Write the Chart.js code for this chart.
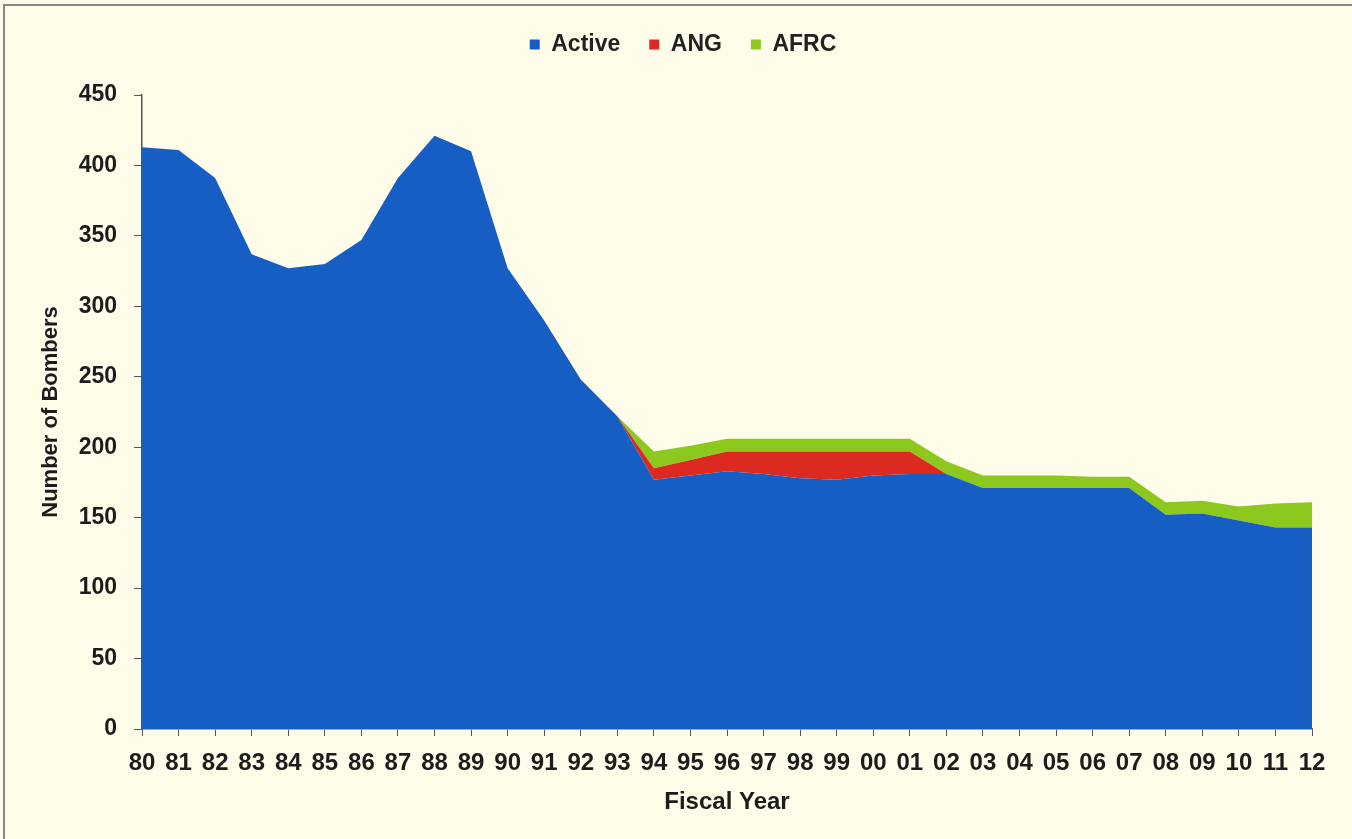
<!DOCTYPE html>
<html>
<head>
<meta charset="utf-8">
<title>Bomber Inventory</title>
<script src="https://cdn.jsdelivr.net/npm/chart.js@4.4.0/dist/chart.umd.min.js"></script>
<style>
  html, body { margin: 0; padding: 0; background: #fffde9; }
  #wrap { position: relative; width: 1352px; height: 839px; overflow: hidden; }
  #frame {
    position: absolute; left: 3px; top: 4px; width: 1400px; height: 900px;
    border-left: 2px solid #8a8a8a; border-top: 2px solid #8a8a8a;
  }
  #myChart { position: absolute; left: 0; top: 0; }
</style>
</head>
<body>
<div id="wrap">
  <div id="frame"></div>
  <canvas id="myChart" width="1352" height="839"></canvas>
</div>
<script>
    'use strict';

    var years = ['80', '81', '82', '83', '84', '85', '86', '87', '88', '89',
        '90', '91', '92', '93', '94', '95', '96', '97', '98', '99',
        '00', '01', '02', '03', '04', '05', '06', '07', '08', '09',
        '10', '11', '12'];

    var active = [413, 411, 391, 337, 327, 330, 347, 391, 421, 410,
        327, 290, 248, 222, 177, 180, 183, 181, 178, 177,
        180, 181, 181, 171, 171, 171, 171, 171, 152, 153,
        148, 143, 143];

    var ang = [0, 0, 0, 0, 0, 0, 0, 0, 0, 0,
        0, 0, 0, 0, 8, 11, 14, 16, 19, 20,
        17, 16, 0, 0, 0, 0, 0, 0, 0, 0,
        0, 0, 0];

    var afrc = [0, 0, 0, 0, 0, 0, 0, 0, 0, 0,
        0, 0, 0, 0, 12, 10, 9, 9, 9, 9,
        9, 9, 9, 9, 9, 9, 8, 8, 9, 9,
        10, 17, 18];

    var seriesNames = ['Active', 'ANG', 'AFRC'];
    var seriesColors = ['#175ec4', '#dc2a20', '#8cc81e'];

    var textColor = '#1c1c1c';
    var axisColor = '#555555';
    var legendHeight = 91;

    // fixed legend band so the plot starts at the same place every time
    var legendBand = {
        id: 'legendBand',
        beforeLayout: function (chart) {
            var legend = chart.legend;
            if (legend && !legend._bandPatched) {
                var fit = legend.fit;
                legend.fit = function () {
                    fit.call(this);
                    this.height = legendHeight;
                };
                legend._bandPatched = true;
            }
        }
    };

    function area(idx, values, fill) {
        return {
            label: seriesNames[idx],
            data: values,
            backgroundColor: seriesColors[idx],
            borderColor: 'transparent',
            borderWidth: 0,
            pointRadius: 0,
            tension: 0,
            fill: fill
        };
    }

    new Chart('myChart', {
        type: 'line',
        data: {
            labels: years,
            datasets: [
                area(0, active, 'origin'),
                area(1, ang, '-1'),
                area(2, afrc, '-1')
            ]
        },
        options: {
            responsive: false,
            animation: false,
            devicePixelRatio: 1,
            layout: {
                padding: { left: 54, right: 40, top: 4, bottom: 0 }
            },
            plugins: {
                legend: {
                    position: 'top',
                    labels: {
                        boxWidth: 10,
                        boxHeight: 10,
                        padding: 29,
                        color: '#222222',
                        font: { family: 'Liberation Sans, Arial, sans-serif', size: 23, weight: 'bold' }
                    }
                },
                tooltip: { enabled: false }
            },
            scales: {
                x: {
                    offset: false,
                    afterFit: function (scale) { scale.height = 110; },
                    border: { display: true, color: axisColor, width: 1.5 },
                    grid: {
                        drawOnChartArea: false,
                        drawTicks: true,
                        tickLength: 7,
                        color: axisColor,
                        offset: false
                    },
                    ticks: {
                        autoSkip: false,
                        maxRotation: 0,
                        padding: 13,
                        color: textColor,
                        font: { family: 'Liberation Sans, Arial, sans-serif', size: 24, weight: 'bold' }
                    },
                    title: {
                        display: true,
                        text: 'Fiscal Year',
                        color: textColor,
                        padding: { top: 0, bottom: 22 },
                        font: { family: 'Liberation Sans, Arial, sans-serif', size: 24, weight: 'bold' }
                    }
                },
                y: {
                    stacked: true,
                    min: 0,
                    max: 450,
                    afterFit: function (scale) { scale.width = 88; },
                    border: { display: true, color: axisColor, width: 1.5 },
                    grid: {
                        drawOnChartArea: false,
                        drawTicks: true,
                        tickLength: 8,
                        color: axisColor
                    },
                    ticks: {
                        stepSize: 50,
                        padding: 17,
                        color: textColor,
                        font: { family: 'Liberation Sans, Arial, sans-serif', size: 23, weight: 'bold' }
                    },
                    title: {
                        display: true,
                        text: 'Number of Bombers',
                        color: textColor,
                        padding: { top: -16, bottom: 0 },
                        font: { family: 'Liberation Sans, Arial, sans-serif', size: 22, weight: 'bold' }
                    }
                }
            }
        },
        plugins: [legendBand]
    });
</script>
</body>
</html>
